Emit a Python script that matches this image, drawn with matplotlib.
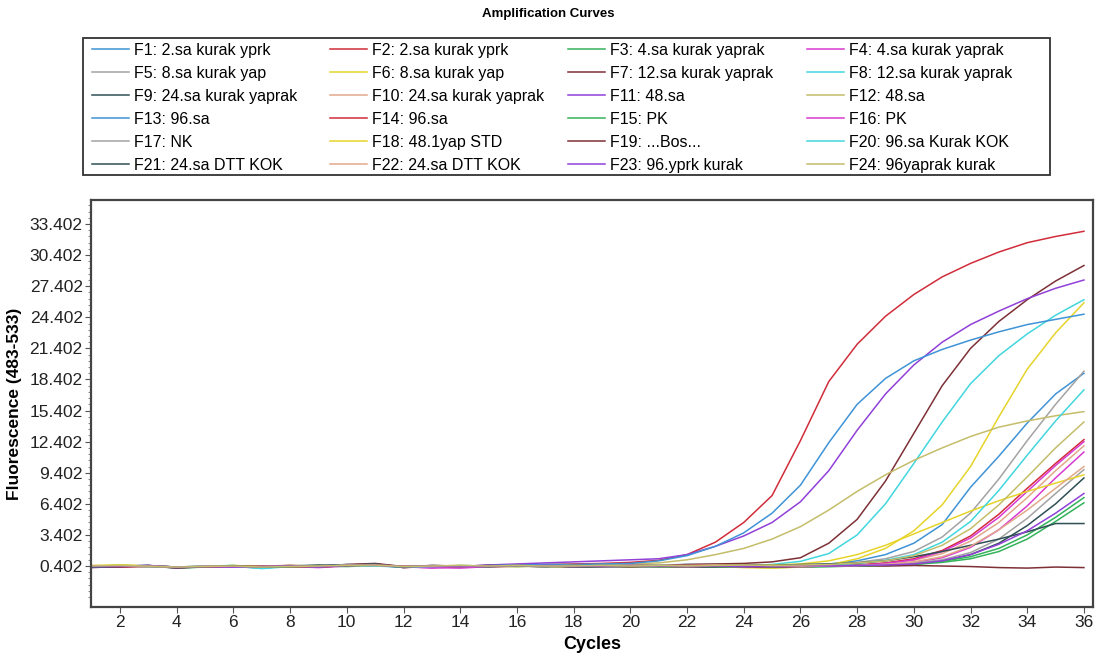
import matplotlib
matplotlib.use("Agg")
import matplotlib.pyplot as plt
from matplotlib import font_manager
from matplotlib.ticker import FixedLocator
from matplotlib.patches import Rectangle

names = set(font_manager.get_font_names())
NARROW = "Liberation Sans Narrow" if "Liberation Sans Narrow" in names else "Liberation Sans"

cycles = list(range(1, 37))

labels = [
    "F1: 2.sa kurak yprk", "F2: 2.sa kurak yprk", "F3: 4.sa kurak yaprak", "F4: 4.sa kurak yaprak",
    "F5: 8.sa kurak yap", "F6: 8.sa kurak yap", "F7: 12.sa kurak yaprak", "F8: 12.sa kurak yaprak",
    "F9: 24.sa kurak yaprak", "F10: 24.sa kurak yaprak", "F11: 48.sa", "F12: 48.sa",
    "F13: 96.sa", "F14: 96.sa", "F15: PK", "F16: PK",
    "F17: NK", "F18: 48.1yap STD", "F19: ...Bos...", "F20: 96.sa Kurak KOK",
    "F21: 24.sa DTT KOK", "F22: 24.sa DTT KOK", "F23: 96.yprk kurak", "F24: 96yaprak kurak",
]

F1 = [0.35,0.40,0.45,0.25,0.30,0.35,0.20,0.40,0.35,0.55,0.50,0.30,0.35,0.40,0.45,0.50,0.45,0.40,0.45,0.50,0.50,0.55,0.55,0.45,0.40,0.45,0.60,0.90,1.50,2.60,4.40,8.00,11.00,14.20,17.00,19.00]
F2 = [0.30,0.35,0.45,0.30,0.30,0.40,0.35,0.45,0.30,0.50,0.60,0.25,0.35,0.40,0.45,0.50,0.55,0.60,0.65,0.75,0.95,1.50,2.70,4.60,7.20,12.50,18.20,21.80,24.50,26.60,28.30,29.60,30.70,31.60,32.20,32.70]
F3 = [0.40,0.45,0.40,0.20,0.30,0.40,0.35,0.30,0.40,0.45,0.50,0.30,0.35,0.30,0.40,0.35,0.40,0.35,0.40,0.40,0.35,0.30,0.35,0.30,0.25,0.30,0.35,0.40,0.45,0.55,0.75,1.10,1.80,3.00,4.70,6.50]
F4 = [0.30,0.40,0.35,0.25,0.35,0.30,0.30,0.35,0.25,0.40,0.45,0.35,0.20,0.35,0.40,0.45,0.40,0.40,0.35,0.40,0.40,0.35,0.30,0.35,0.30,0.35,0.40,0.45,0.55,0.75,1.20,2.20,3.90,6.20,8.90,11.40]
F5 = [0.35,0.45,0.40,0.25,0.35,0.40,0.30,0.40,0.35,0.50,0.45,0.30,0.40,0.35,0.40,0.45,0.40,0.45,0.40,0.45,0.45,0.40,0.45,0.40,0.35,0.45,0.55,0.75,1.10,1.80,3.20,5.50,8.80,12.50,16.00,19.20]
F6 = [0.40,0.50,0.40,0.30,0.35,0.40,0.30,0.40,0.30,0.45,0.50,0.35,0.30,0.40,0.35,0.40,0.35,0.30,0.35,0.40,0.35,0.30,0.35,0.25,0.20,0.30,0.50,1.10,2.10,3.80,6.30,10.00,14.80,19.40,22.90,25.80]
F7 = [0.25,0.35,0.40,0.30,0.35,0.40,0.40,0.45,0.40,0.55,0.65,0.35,0.45,0.40,0.45,0.40,0.35,0.40,0.45,0.50,0.45,0.55,0.60,0.65,0.80,1.20,2.60,4.90,8.60,13.20,17.80,21.40,24.00,26.10,27.90,29.40]
F8 = [0.40,0.45,0.40,0.30,0.40,0.45,0.15,0.35,0.40,0.50,0.45,0.30,0.35,0.45,0.40,0.45,0.40,0.45,0.50,0.45,0.40,0.35,0.40,0.45,0.55,0.85,1.60,3.40,6.40,10.30,14.30,18.00,20.70,22.80,24.60,26.10]
F9 = [0.30,0.40,0.45,0.20,0.35,0.40,0.30,0.40,0.50,0.45,0.60,0.25,0.40,0.30,0.40,0.45,0.50,0.30,0.35,0.30,0.35,0.30,0.30,0.35,0.40,0.35,0.40,0.45,0.50,0.60,0.90,1.50,2.60,4.30,6.40,8.90]
F10 = [0.35,0.40,0.35,0.30,0.40,0.35,0.35,0.30,0.40,0.40,0.45,0.40,0.35,0.30,0.40,0.35,0.45,0.40,0.40,0.45,0.50,0.45,0.40,0.35,0.30,0.35,0.40,0.50,0.65,0.95,1.60,2.80,4.60,7.00,9.60,12.00]
F11 = [0.30,0.35,0.40,0.30,0.35,0.40,0.35,0.40,0.35,0.45,0.50,0.35,0.40,0.35,0.50,0.60,0.70,0.80,0.90,1.00,1.10,1.50,2.30,3.30,4.60,6.60,9.60,13.50,17.00,19.80,22.00,23.70,25.00,26.20,27.20,28.00]
F12 = [0.35,0.40,0.40,0.30,0.30,0.35,0.30,0.40,0.35,0.45,0.50,0.30,0.35,0.40,0.40,0.45,0.45,0.50,0.55,0.60,0.70,1.00,1.50,2.10,3.00,4.20,5.80,7.60,9.20,10.60,11.80,12.90,13.80,14.40,14.90,15.30]
F13 = [0.30,0.40,0.45,0.30,0.35,0.40,0.30,0.40,0.35,0.50,0.55,0.30,0.40,0.35,0.45,0.50,0.55,0.55,0.60,0.65,0.90,1.40,2.30,3.60,5.50,8.20,12.30,16.00,18.50,20.20,21.30,22.20,23.00,23.70,24.20,24.70]
F14 = [0.40,0.30,0.35,0.25,0.30,0.35,0.40,0.35,0.30,0.45,0.40,0.35,0.30,0.35,0.30,0.40,0.35,0.40,0.45,0.40,0.40,0.45,0.50,0.40,0.35,0.40,0.45,0.50,0.70,1.10,1.90,3.30,5.40,7.90,10.30,12.60]
F15 = [0.35,0.40,0.35,0.30,0.35,0.45,0.30,0.35,0.40,0.35,0.45,0.30,0.35,0.40,0.35,0.40,0.35,0.40,0.35,0.40,0.35,0.40,0.35,0.30,0.35,0.30,0.35,0.40,0.45,0.55,0.85,1.30,2.10,3.40,5.10,7.00]
F16 = [0.30,0.35,0.40,0.25,0.35,0.30,0.35,0.40,0.35,0.40,0.45,0.30,0.25,0.20,0.35,0.40,0.45,0.40,0.35,0.40,0.40,0.35,0.40,0.35,0.30,0.35,0.40,0.45,0.65,1.00,1.80,3.10,5.10,7.60,10.10,12.40]
F17 = [0.40,0.45,0.40,0.30,0.35,0.40,0.35,0.45,0.40,0.45,0.50,0.35,0.40,0.45,0.40,0.45,0.40,0.45,0.40,0.45,0.40,0.45,0.40,0.35,0.40,0.35,0.40,0.45,0.55,0.70,1.00,1.70,3.00,5.00,7.40,9.70]
F18 = [0.45,0.50,0.40,0.30,0.35,0.45,0.35,0.45,0.40,0.40,0.45,0.35,0.40,0.45,0.40,0.35,0.40,0.45,0.40,0.35,0.40,0.35,0.40,0.45,0.50,0.60,0.90,1.50,2.40,3.50,4.60,5.70,6.70,7.60,8.40,9.20]
F19 = [0.40,0.35,0.40,0.30,0.35,0.40,0.35,0.40,0.35,0.40,0.55,0.35,0.40,0.35,0.45,0.40,0.35,0.45,0.40,0.35,0.40,0.45,0.40,0.35,0.30,0.35,0.40,0.45,0.40,0.45,0.40,0.35,0.25,0.20,0.30,0.25]
F20 = [0.35,0.40,0.35,0.30,0.40,0.35,0.20,0.40,0.35,0.45,0.40,0.30,0.35,0.40,0.35,0.40,0.35,0.40,0.45,0.40,0.45,0.40,0.45,0.40,0.35,0.40,0.50,0.65,0.95,1.50,2.70,4.70,7.70,11.10,14.40,17.40]
F21 = [0.30,0.35,0.40,0.25,0.35,0.40,0.30,0.35,0.40,0.45,0.50,0.30,0.45,0.40,0.35,0.45,0.40,0.30,0.35,0.40,0.35,0.45,0.40,0.50,0.45,0.55,0.60,0.70,0.90,1.30,1.80,2.40,3.00,3.70,4.50,4.50]
F22 = [0.45,0.40,0.35,0.30,0.40,0.35,0.35,0.40,0.35,0.50,0.45,0.35,0.40,0.35,0.40,0.45,0.40,0.35,0.40,0.45,0.40,0.45,0.50,0.45,0.40,0.35,0.40,0.45,0.55,0.80,1.30,2.30,3.90,5.80,7.90,10.00]
F23 = [0.35,0.40,0.45,0.30,0.35,0.30,0.35,0.40,0.30,0.45,0.50,0.35,0.40,0.35,0.40,0.45,0.40,0.35,0.40,0.45,0.40,0.35,0.40,0.35,0.40,0.45,0.40,0.45,0.50,0.60,0.90,1.50,2.50,3.80,5.50,7.40]
F24 = [0.40,0.45,0.40,0.30,0.35,0.40,0.30,0.35,0.40,0.45,0.50,0.35,0.40,0.45,0.40,0.45,0.40,0.40,0.45,0.40,0.45,0.40,0.45,0.50,0.45,0.50,0.55,0.70,0.90,1.40,2.40,4.00,6.30,9.00,11.80,14.30]

series = [F1, F2, F3, F4, F5, F6, F7, F8, F9, F10, F11, F12,
          F13, F14, F15, F16, F17, F18, F19, F20, F21, F22, F23, F24]

palette = ["#3f93d6", "#d12c3a", "#33b35a", "#d93ad0", "#a3a3a3", "#e6d42a",
           "#7d3036", "#42d6de", "#2f4f55", "#e2a88a", "#9140d8", "#c4bd6a"]

yticks = [0.402, 3.402, 6.402, 9.402, 12.402, 15.402, 18.402, 21.402, 24.402, 27.402, 30.402, 33.402]
xticks = list(range(2, 37, 2))

W, H = 1104, 659
fig = plt.figure(figsize=(W / 100, H / 100), dpi=100)
ax = fig.add_axes([91/W, 1-607/H, (1093-91)/W, (607-200)/H])

handles = []
for i, (lab, ys) in enumerate(zip(labels, series)):
    h, = ax.plot(cycles, ys, color=palette[i % 12], lw=1.1, label=lab, solid_joinstyle="round")
    handles.append(h)

ax.set_xlim(0.977, 36.32)
ax.set_ylim(-3.554, 35.72)
ax.yaxis.set_major_locator(FixedLocator(yticks))
ax.set_yticklabels([f"{v:.3f}" for v in yticks])
ax.yaxis.set_minor_locator(FixedLocator([0.402 + 0.6 * k for k in range(-5, 59)]))
ax.xaxis.set_major_locator(FixedLocator(xticks))
ax.set_xticklabels([str(v) for v in xticks])

for t in ax.get_xticklabels() + ax.get_yticklabels():
    t.set_fontfamily(NARROW)
    t.set_fontsize(12.5)
    t.set_color("#222222")
ax.tick_params(axis="both", which="major", direction="out", length=4, width=0.8, color="#555555", pad=2)
ax.tick_params(axis="y", which="minor", direction="out", length=2, width=0.6, color="#777777")
for s in ax.spines.values():
    s.set_linewidth(1.6)
    s.set_color("#444444")

ax.set_xlabel("Cycles", fontfamily=NARROW, fontweight="bold", fontsize=13, labelpad=4)
ax.set_ylabel("Fluorescence (483-533)", fontfamily=NARROW, fontweight="bold", fontsize=12.5, labelpad=5)

fig.text(548/W, 1-14/H, "Amplification Curves", ha="center", va="center",
         fontfamily="Liberation Sans", fontweight="bold", fontsize=9.5)

# legend frame
fig.patches.append(Rectangle((83/W, 1-175/H), (1050-83)/W, (175-38)/H,
                             transform=fig.transFigure, fill=False,
                             edgecolor="#333333", linewidth=1.3))

# legend: 4 columns, filled row-wise as in the reference (F1..F4 in the first row)
col_x = [92, 330, 568, 807]
for c in range(4):
    idx = [r * 4 + c for r in range(6)]
    fig.legend([handles[k] for k in idx], [labels[k] for k in idx],
               loc="upper left", bbox_to_anchor=(col_x[c]/W, 1-43/H),
               frameon=False, borderpad=0, borderaxespad=0,
               prop=dict(family="Liberation Sans", size=11.5),
               handlelength=2.3, handletextpad=0.3, labelspacing=0.5)

fig.savefig("out.png", dpi=100)
